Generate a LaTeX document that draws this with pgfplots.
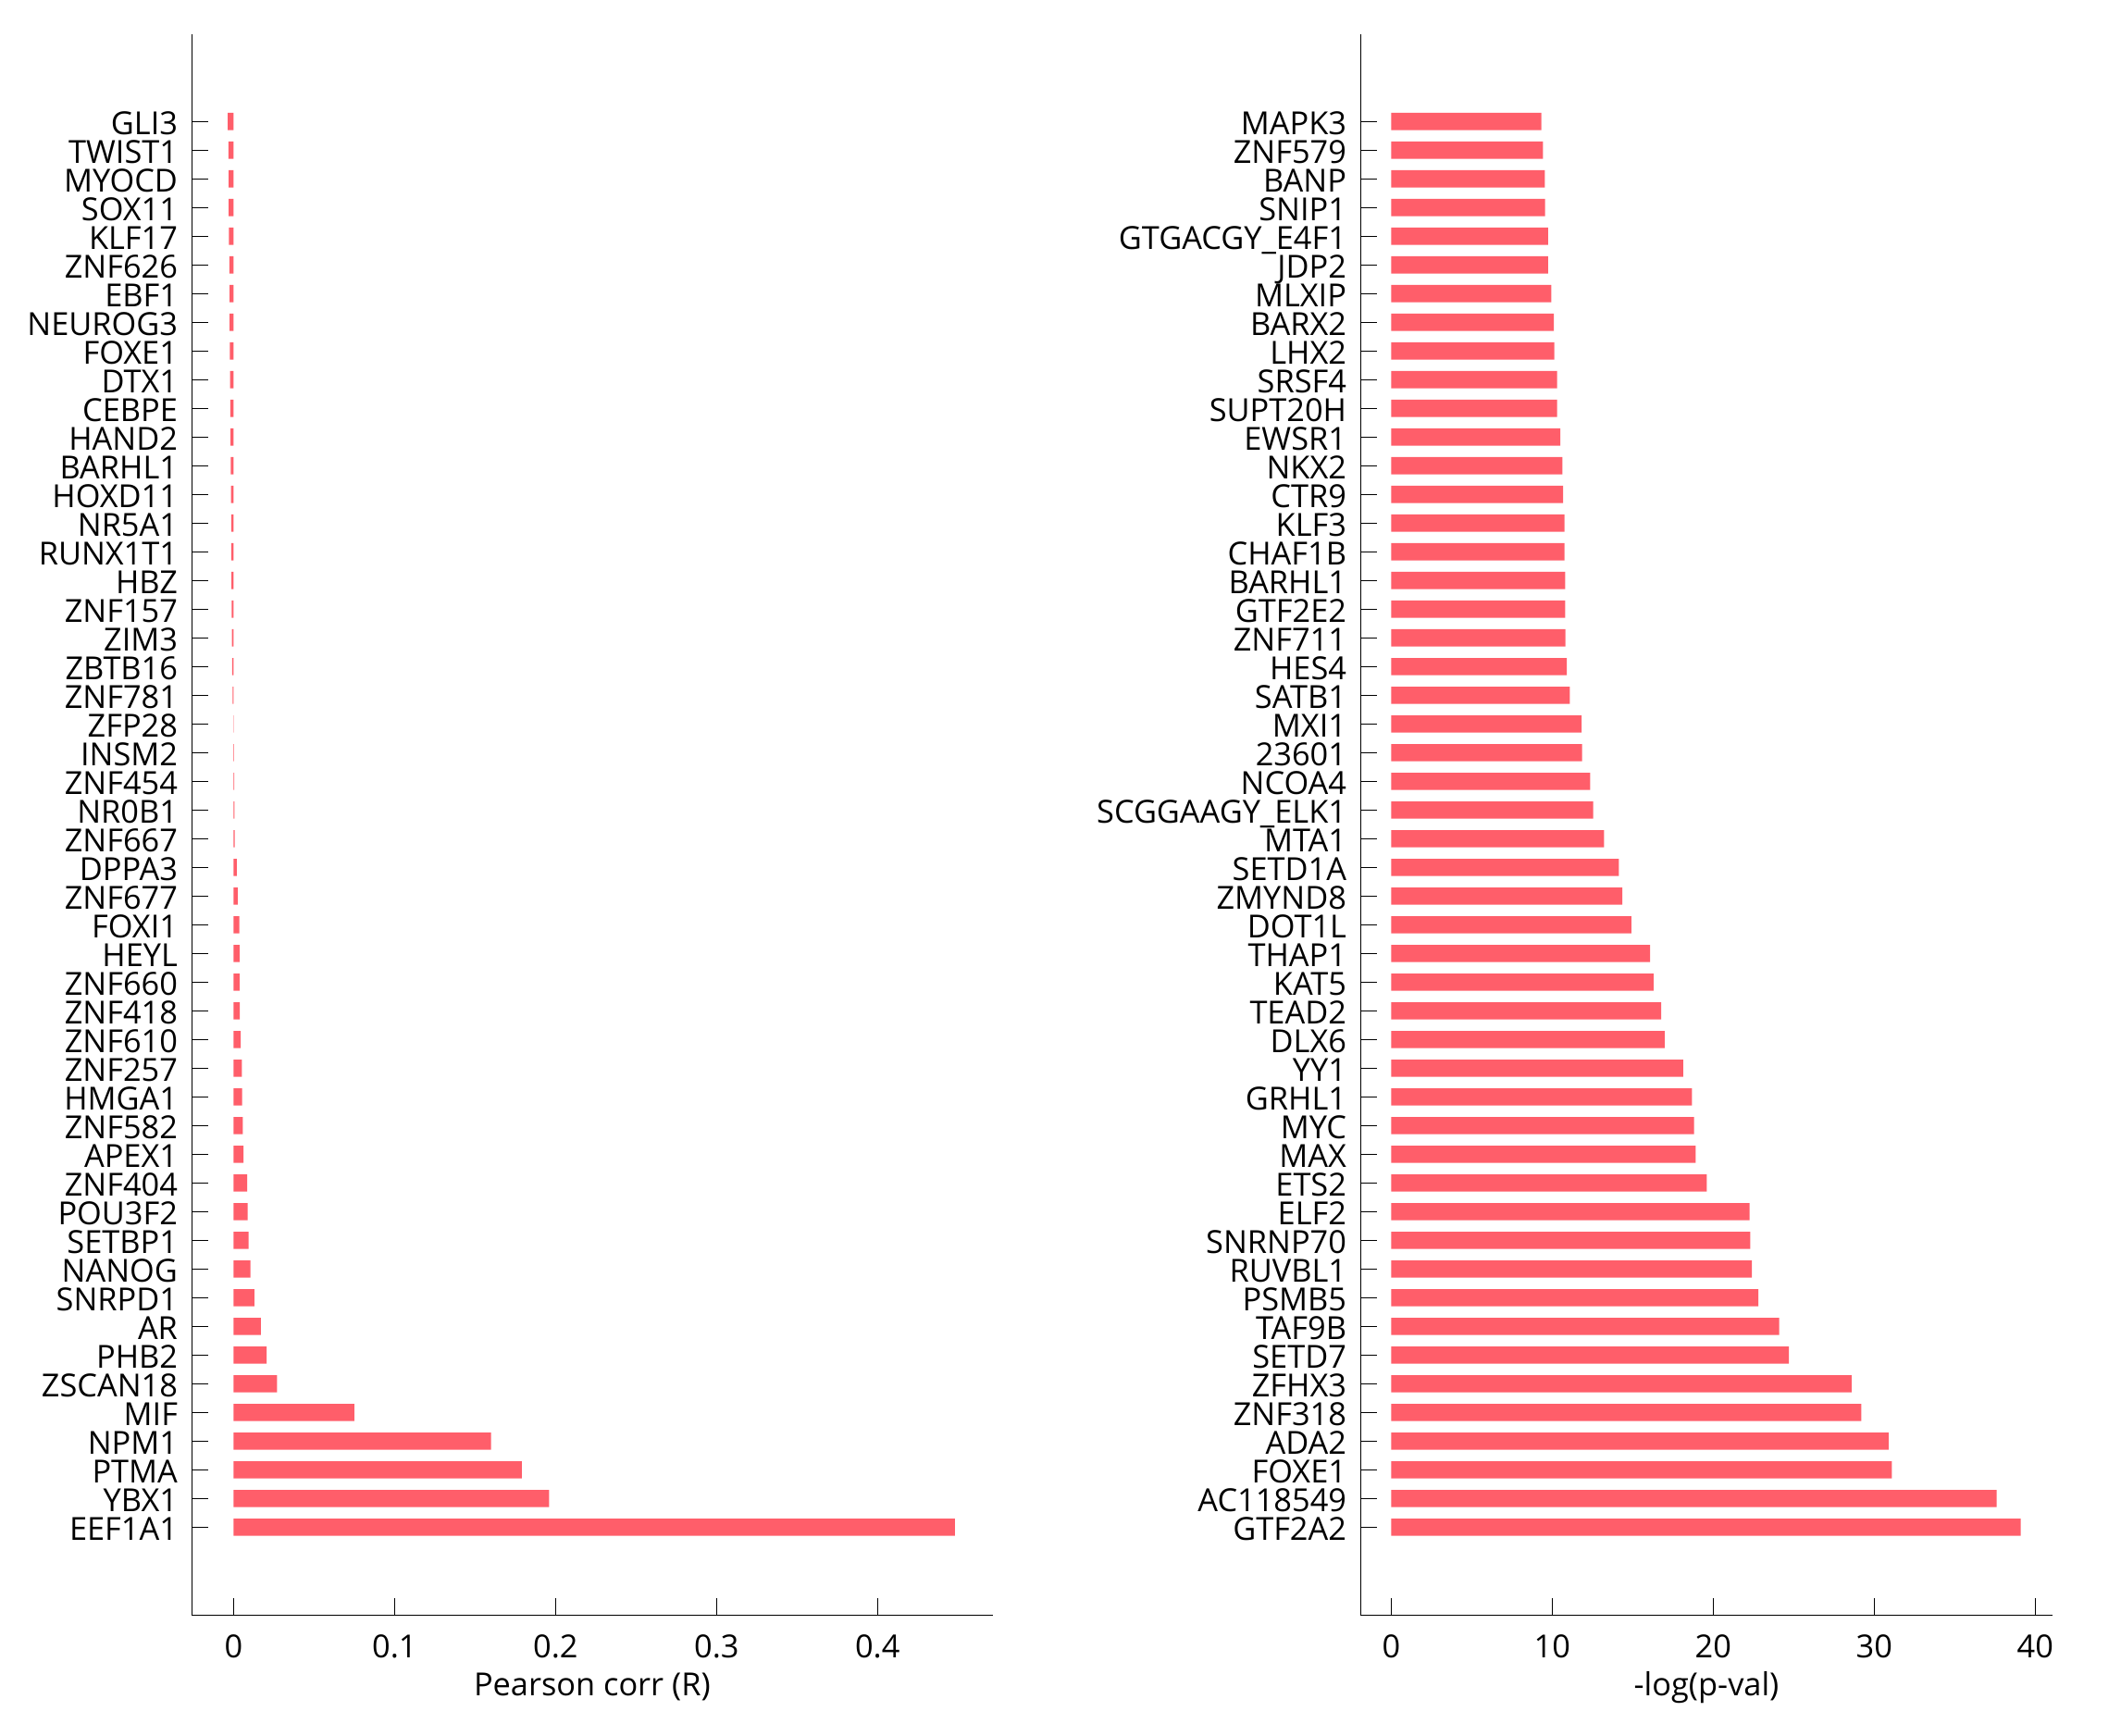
\documentclass[border=0pt]{standalone}
\usepackage{fontspec}
\setmainfont{Open Sans}
\usepackage{pgfplots}
\pgfplotsset{compat=1.18}
\definecolor{barred}{RGB}{255,94,106}

\pgfplotsset{
  panel/.style={
    scale only axis,
    height=512.4pt,
    xbar, bar width=0.6,
    axis x line=bottom, axis y line=left,
    axis line style={-, line width=0.4pt},
    tick align=inside, major tick length=5.4pt,
    tick style={line width=0.4pt, black},
    ymin=-3.06, ymax=52.03, ytick={0,...,49},
    yticklabel style={anchor=base east, inner sep=0pt, xshift=-4.4pt, yshift=-4.3pt},
    xticklabel style={anchor=north, inner sep=0pt, yshift=-6.1pt},
    /pgf/number format/assume math mode=true,
    font=\fontsize{10.3}{12}\selectfont,
    xlabel style={at={(axis description cs:0.5,0)}, anchor=base, inner sep=0pt, yshift=-26.3pt},
  },
}

\begin{document}
\begin{tikzpicture}
\useasboundingbox (0,0) rectangle (687.6pt,562.5pt);

% left: correlation
\begin{axis}[panel,
    at={(62.19pt,38.91pt)}, anchor=south west,
    width=259.56pt,
    xmin=-0.0259, xmax=0.4714,
    xtick={0,0.1,0.2,0.3,0.4},
    xlabel={Pearson corr (R)},
    yticklabels={EEF1A1,YBX1,PTMA,NPM1,MIF,ZSCAN18,PHB2,AR,SNRPD1,NANOG,
      SETBP1,POU3F2,ZNF404,APEX1,ZNF582,HMGA1,ZNF257,ZNF610,ZNF418,ZNF660,
      HEYL,FOXI1,ZNF677,DPPA3,ZNF667,NR0B1,ZNF454,INSM2,ZFP28,ZNF781,
      ZBTB16,ZIM3,ZNF157,HBZ,RUNX1T1,NR5A1,HOXD11,BARHL1,HAND2,CEBPE,
      DTX1,FOXE1,NEUROG3,EBF1,ZNF626,KLF17,SOX11,MYOCD,TWIST1,GLI3},
]
\addplot[fill=barred, draw=none] coordinates {
  (0.4480,0) (0.1960,1) (0.1790,2) (0.1600,3) (0.0750,4)
  (0.0270,5) (0.0206,6) (0.0170,7) (0.0129,8) (0.0105,9)
  (0.0093,10) (0.0088,11) (0.0085,12) (0.0062,13) (0.0057,14)
  (0.0053,15) (0.0052,16) (0.0045,17) (0.0039,18) (0.0038,19)
  (0.0037,20) (0.0036,21) (0.0026,22) (0.0020,23) (0.0007,24)
  (0.0006,25) (0.0005,26) (0.0003,27) (-0.0002,28) (-0.0006,29)
  (-0.0008,30) (-0.0010,31) (-0.0011,32) (-0.0013,33) (-0.0014,34)
  (-0.0015,35) (-0.0016,36) (-0.0017,37) (-0.0019,38) (-0.0020,39)
  (-0.0022,40) (-0.0023,41) (-0.0024,42) (-0.0025,43) (-0.0026,44)
  (-0.0028,45) (-0.0030,46) (-0.0030,47) (-0.0032,48) (-0.0036,49)
};
\end{axis}

% right: significance
\begin{axis}[panel,
    at={(441.09pt,38.91pt)}, anchor=south west,
    width=224.22pt,
    xmin=-1.90, xmax=41.06,
    xtick={0,10,20,30,40},
    xlabel={-log(p-val)},
    yticklabels={GTF2A2,AC118549,FOXE1,ADA2,ZNF318,ZFHX3,SETD7,TAF9B,PSMB5,RUVBL1,
      SNRNP70,ELF2,ETS2,MAX,MYC,GRHL1,YY1,DLX6,TEAD2,KAT5,
      THAP1,DOT1L,ZMYND8,SETD1A,MTA1,SCGGAAGY\_ELK1,NCOA4,23601,MXI1,SATB1,
      HES4,ZNF711,GTF2E2,BARHL1,CHAF1B,KLF3,CTR9,NKX2,EWSR1,SUPT20H,
      SRSF4,LHX2,BARX2,MLXIP,JDP2,GTGACGY\_E4F1,SNIP1,BANP,ZNF579,MAPK3},
]
\addplot[fill=barred, draw=none] coordinates {
  (39.10,0) (37.60,1) (31.10,2) (30.90,3) (29.20,4)
  (28.60,5) (24.70,6) (24.10,7) (22.80,8) (22.40,9)
  (22.30,10) (22.26,11) (19.60,12) (18.91,13) (18.81,14)
  (18.68,15) (18.13,16) (16.98,17) (16.77,18) (16.29,19)
  (16.08,20) (14.91,21) (14.35,22) (14.14,23) (13.22,24)
  (12.55,25) (12.36,26) (11.86,27) (11.82,28) (11.09,29)
  (10.90,30) (10.82,31) (10.80,32) (10.80,33) (10.77,34)
  (10.77,35) (10.67,36) (10.64,37) (10.50,38) (10.31,39)
  (10.30,40) (10.13,41) (10.10,42) (9.95,43) (9.74,44)
  (9.74,45) (9.56,46) (9.54,47) (9.43,48) (9.33,49)
};
\end{axis}
\end{tikzpicture}
\end{document}
